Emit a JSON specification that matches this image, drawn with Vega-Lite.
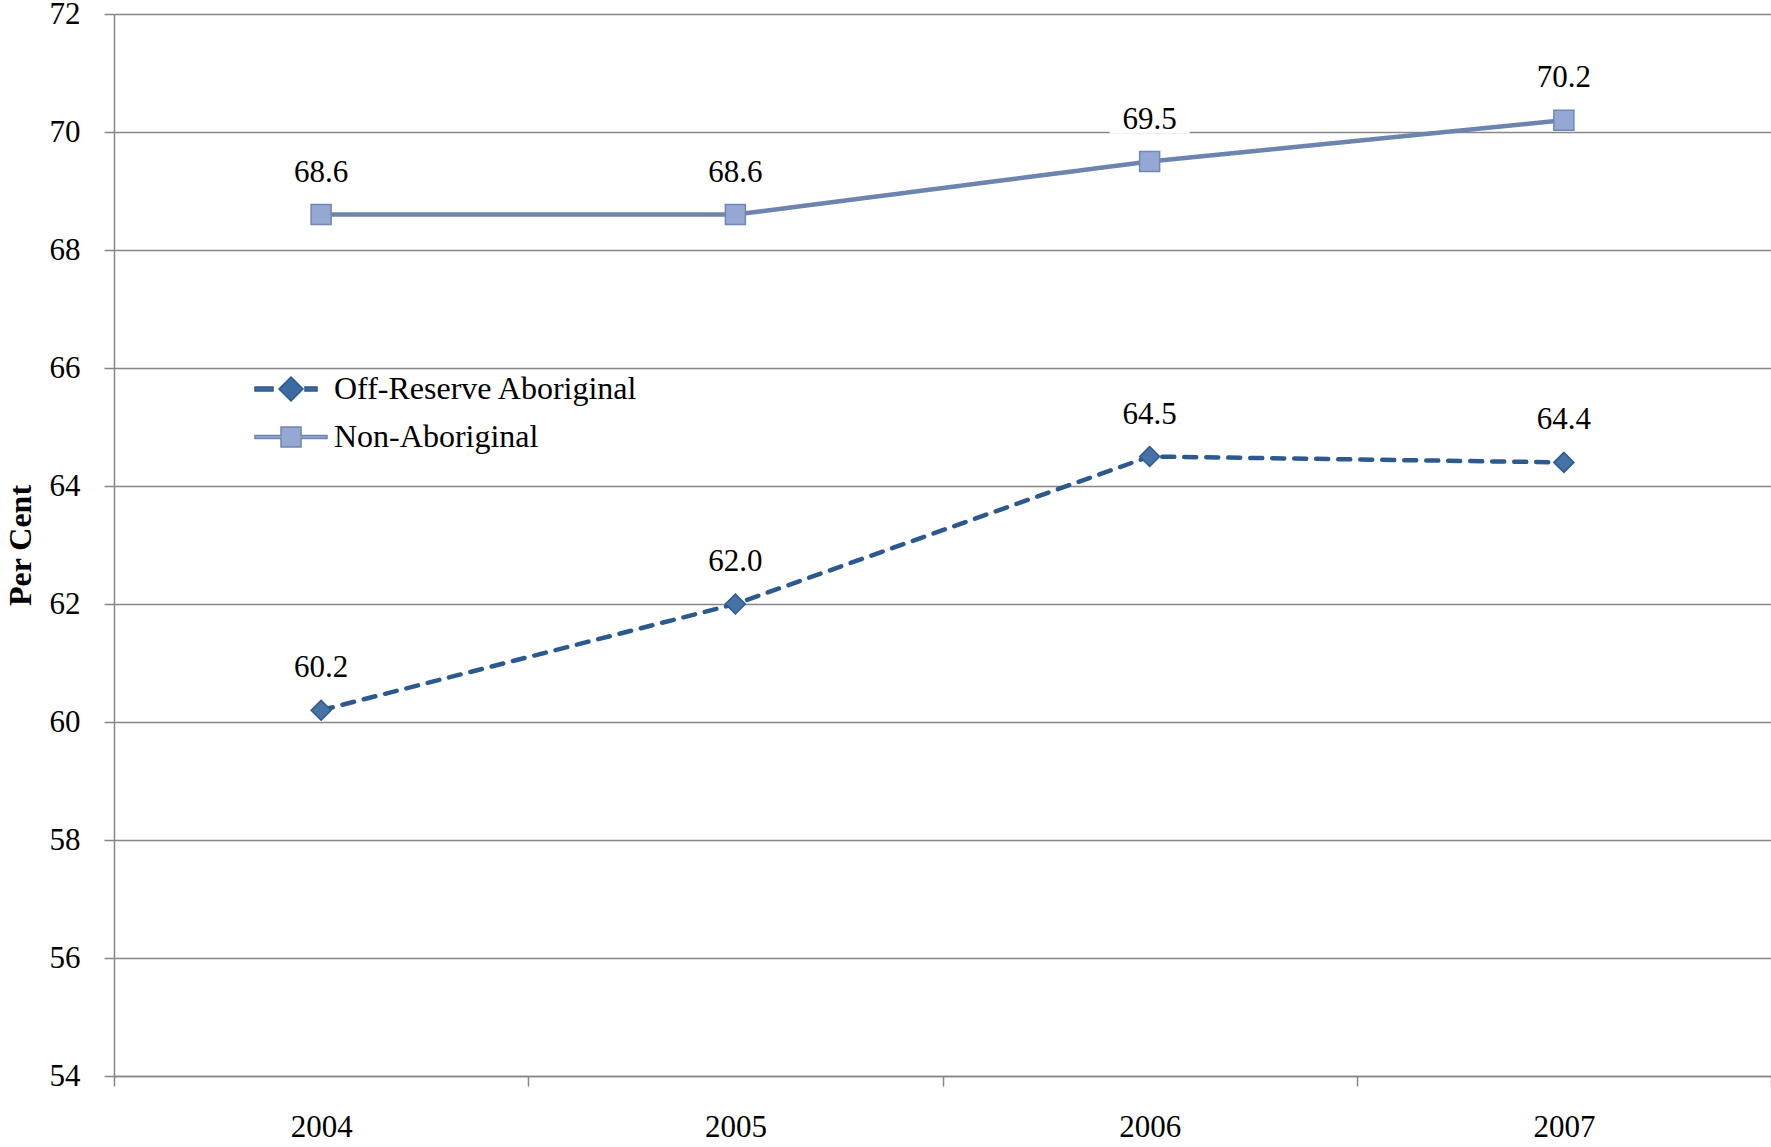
{
  "$schema": "https://vega.github.io/schema/vega-lite/v6.json",
  "width": 1657,
  "height": 1062,
  "autosize": {"type": "none"},
  "padding": {"left": 114, "top": 14, "right": 0, "bottom": 71},
  "background": "white",
  "config": {"font": "Liberation Serif", "view": {"stroke": null}, "text": {"font": "Liberation Serif"}, "axis": {"labelFont": "Liberation Serif", "titleFont": "Liberation Serif"}, "legend": {"labelFont": "Liberation Serif"}},
  "data": {
    "values": [
      {"year": "2004", "series": "Off-Reserve Aboriginal", "value": 60.2},
      {"year": "2005", "series": "Off-Reserve Aboriginal", "value": 62.0},
      {"year": "2006", "series": "Off-Reserve Aboriginal", "value": 64.5},
      {"year": "2007", "series": "Off-Reserve Aboriginal", "value": 64.4},
      {"year": "2004", "series": "Non-Aboriginal", "value": 68.6},
      {"year": "2005", "series": "Non-Aboriginal", "value": 68.6},
      {"year": "2006", "series": "Non-Aboriginal", "value": 69.5},
      {"year": "2007", "series": "Non-Aboriginal", "value": 70.2}
    ]
  },
  "encoding": {
    "x": {
      "field": "year", "type": "ordinal",
      "scale": {"paddingInner": 0, "paddingOuter": 0},
      "axis": {
        "title": null, "labelAngle": 0, "tickBand": "extent", "tickSize": 10,
        "labelPadding": 26, "labelFontSize": 31, "labelColor": "black", "labelFont": "Liberation Serif",
        "domainColor": "#868686", "tickColor": "#868686", "domainWidth": 1.5, "tickWidth": 1.5, "grid": false
      }
    },
    "y": {
      "field": "value", "type": "quantitative",
      "scale": {"domain": [54, 72], "nice": false, "zero": false},
      "axis": {
        "title": "Per Cent", "titleFontSize": 32, "titleFontWeight": "bold", "titleColor": "black", "titleFont": "Liberation Serif",
        "titlePadding": 12,
        "values": [54, 56, 58, 60, 62, 64, 66, 68, 70, 72],
        "tickSize": 10, "labelPadding": 24, "labelFontSize": 31, "labelColor": "black", "labelFont": "Liberation Serif",
        "gridColor": "#868686", "gridWidth": 1.5, "domainColor": "#868686", "domainWidth": 1.5,
        "tickColor": "#868686", "tickWidth": 1.5
      }
    }
  },
  "layer": [
    {
      "mark": {"type": "point", "shape": "M-1,-0.375H1V0.375H-1Z", "size": 6400, "filled": true, "color": "white", "opacity": 1, "strokeWidth": 0, "yOffset": -43}
    },
    {
      "mark": {"type": "line", "strokeWidth": 4.5, "strokeCap": "round"},
      "encoding": {
        "color": {
          "field": "series", "type": "nominal",
          "scale": {"domain": ["Off-Reserve Aboriginal", "Non-Aboriginal"], "range": ["#2c5a8f", "#6d85ae"]},
          "legend": {
            "title": null, "orient": "none", "legendX": 161, "legendY": 359,
            "labelFontSize": 32, "labelColor": "black", "labelFont": "Liberation Serif", "labelLimit": 0,
            "symbolSize": 400, "labelOffset": 27, "rowPadding": 16,
            "encode": {
              "symbols": {
                "update": {
                  "shape": {"signal": "datum.value === 'Off-Reserve Aboriginal' ? 'M-3.6,-0.2H-1.8V0.2H-3.6Z M0,-1.2L1.2,0L0,1.2L-1.2,0Z M1.4,-0.2H2.6V0.2H1.4Z' : 'M-3.6,-0.15H-1V-1H1V-0.15H3.6V0.15H1V1H-1V0.15H-3.6Z'"},
                  "stroke": {"signal": "datum.value === 'Off-Reserve Aboriginal' ? '#2c5a8f' : '#6d85ae'"},
                  "fill": {"signal": "datum.value === 'Off-Reserve Aboriginal' ? '#3d6aa0' : '#95a8d4'"},
                  "strokeWidth": {"value": 1.5},
                  "strokeDash": {"value": []},
                  "size": {"value": 400},
                  "opacity": {"value": 1}
                }
              }
            },
            "encoding": {
              "symbols": {
                "update": {
                  "shape": {"signal": "datum.value === 'Off-Reserve Aboriginal' ? 'M-3.6,-0.2H-1.8V0.2H-3.6Z M0,-1.2L1.2,0L0,1.2L-1.2,0Z M1.4,-0.2H2.6V0.2H1.4Z' : 'M-3.6,-0.15H-1V-1H1V-0.15H3.6V0.15H1V1H-1V0.15H-3.6Z'"},
                  "stroke": {"signal": "datum.value === 'Off-Reserve Aboriginal' ? '#2c5a8f' : '#6d85ae'"},
                  "fill": {"signal": "datum.value === 'Off-Reserve Aboriginal' ? '#3d6aa0' : '#95a8d4'"},
                  "strokeWidth": {"value": 1.5},
                  "strokeDash": {"value": []},
                  "size": {"value": 400},
                  "opacity": {"value": 1}
                }
              }
            }
          }
        },
        "strokeDash": {"condition": {"test": "datum.series === 'Off-Reserve Aboriginal'", "value": [12, 10]}, "value": [1, 0]}
      }
    },
    {
      "transform": [{"filter": "datum.series === 'Off-Reserve Aboriginal'"}],
      "mark": {"type": "point", "shape": "diamond", "filled": true, "opacity": 1, "size": 400, "strokeWidth": 1.5, "fill": "#4672a8", "stroke": "#2d5b8e"}
    },
    {
      "transform": [{"filter": "datum.series === 'Non-Aboriginal'"}],
      "mark": {"type": "point", "shape": "square", "filled": true, "opacity": 1, "size": 400, "strokeWidth": 1.5, "fill": "#95a8d4", "stroke": "#6f88b4"}
    },
    {
      "mark": {"type": "text", "dy": -33, "baseline": "alphabetic", "fontSize": 31, "color": "black", "font": "Liberation Serif"},
      "encoding": {"text": {"field": "value", "type": "quantitative", "format": ".1f"}}
    }
  ]
}
